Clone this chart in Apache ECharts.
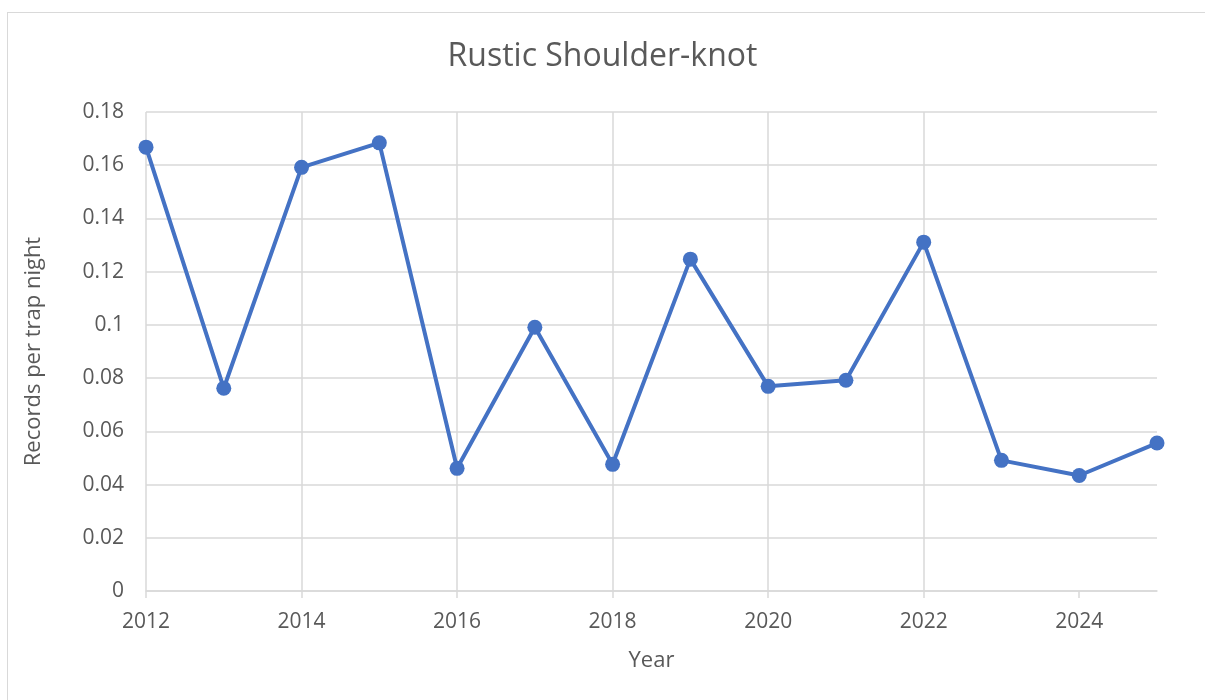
<!DOCTYPE html>
<html lang="en">

<head>
    <meta charset="UTF-8">
    <title>Rustic Shoulder-knot</title>
    <script src="https://cdn.jsdelivr.net/npm/echarts@6/dist/echarts.min.js"></script>
    <style>
        html, body { margin: 0; padding: 0; background: #fff; overflow: hidden; }
        #frame { position: absolute; left: 7px; top: 12px; width: 1198px; height: 688px; border-top: 1.5px solid #d9d9d9; border-left: 1.5px solid #d9d9d9; box-sizing: border-box; }
        #main { position: absolute; left: 0; top: 0; width: 1205px; height: 700px; }
    </style>
</head>

<body>
    <div id="frame"></div>
    <div id="main"></div>
    <script>
        // data
        var years = [2012, 2013, 2014, 2015, 2016, 2017, 2018, 2019, 2020, 2021, 2022, 2023, 2024, 2025];
        var recordsPerNight = [0.1668, 0.0762, 0.1592, 0.1684, 0.0461, 0.0991, 0.0476, 0.1247, 0.0769, 0.0792, 0.1311, 0.0491, 0.0434, 0.0556];
        var xTicks = [2012, 2014, 2016, 2018, 2020, 2022, 2024];
        var yTicks = [0, 0.02, 0.04, 0.06, 0.08, 0.1, 0.12, 0.14, 0.16, 0.18];

        var points = [];
        for (var i = 0; i < years.length; i++) {
            points.push([years[i], recordsPerNight[i]]);
        }

        var mychart = echarts.init(document.getElementById('main'));
        var textColor = '#595959';
        var gridColor = '#d9d9d9';
        var font = '"Open Sans", sans-serif';

        var option = {
            animation: false,
            backgroundColor: 'transparent',
            title: {
                text: 'Rustic Shoulder-knot',
                left: 'center',
                top: 36,
                textStyle: { color: textColor, fontSize: 32, fontWeight: 'normal', fontFamily: font }
            },
            grid: { left: 146, right: 48, top: 112, bottom: 109 },
            xAxis: {
                type: 'value',
                min: 2012,
                max: 2025,
                interval: 2,
                name: 'Year',
                nameLocation: 'middle',
                nameGap: 59,
                nameTextStyle: { color: textColor, fontSize: 22, fontFamily: font },
                axisLine: { show: true, lineStyle: { color: gridColor, width: 1.5 } },
                axisTick: { show: true, length: 7, lineStyle: { color: gridColor, width: 1.5 }, customValues: xTicks },
                axisLabel: {
                    color: textColor, fontSize: 21, fontFamily: font, margin: 21, customValues: xTicks,
                    formatter: function (v) { return String(v); }
                },
                splitLine: { show: true, showMaxLine: false, lineStyle: { color: gridColor, width: 1.5 } }
            },
            yAxis: {
                type: 'value',
                min: 0,
                max: 0.18,
                interval: 0.02,
                name: 'Records per trap night',
                nameLocation: 'middle',
                nameGap: 101,
                nameRotate: 90,
                nameTextStyle: { color: textColor, fontSize: 22, fontFamily: font },
                axisLine: { show: false },
                axisTick: { show: false },
                axisLabel: { color: textColor, fontSize: 21, fontFamily: font, margin: 22, customValues: yTicks },
                splitLine: { show: true, lineStyle: { color: gridColor, width: 1.5 } }
            },
            series: [{
                type: 'line',
                data: points,
                symbol: 'circle',
                symbolSize: 15,
                itemStyle: { color: '#4472c4' },
                lineStyle: { color: '#4472c4', width: 4 }
            }]
        };
        mychart.setOption(option);
    </script>
</body>

</html>
